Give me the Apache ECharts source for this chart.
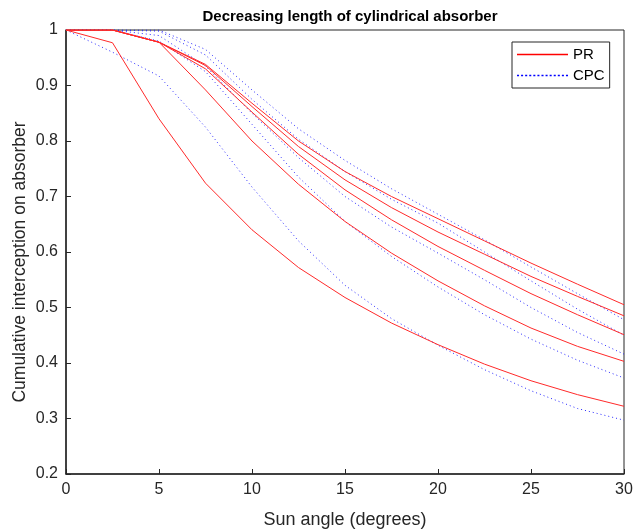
<!DOCTYPE html>
<html>
<head>
<meta charset="utf-8">
<script src="https://cdn.jsdelivr.net/npm/echarts@6/dist/echarts.min.js"></script>
<style>
html,body{margin:0;padding:0;background:#fff;}
#chart{width:634px;height:530px;}
</style>
</head>
<body>
<div id="chart"></div>
<script>
var angles = [0, 2.5, 5, 7.5, 10, 12.5, 15, 17.5, 20, 22.5, 25, 27.5, 30];

var pr1 = [1, 1, 0.978, 0.938, 0.868, 0.800, 0.745, 0.700, 0.660, 0.620, 0.580, 0.542, 0.505];
var pr2 = [1, 1, 0.978, 0.936, 0.862, 0.790, 0.730, 0.680, 0.636, 0.596, 0.556, 0.520, 0.485];
var pr3 = [1, 1, 0.978, 0.930, 0.852, 0.776, 0.712, 0.658, 0.610, 0.567, 0.525, 0.487, 0.451];
var pr4 = [1, 1, 0.978, 0.892, 0.800, 0.722, 0.655, 0.598, 0.548, 0.503, 0.463, 0.430, 0.403];
var pr5 = [1, 0.977, 0.840, 0.724, 0.640, 0.572, 0.518, 0.472, 0.433, 0.398, 0.368, 0.343, 0.322];

var cpc1 = [1, 1, 1, 0.965, 0.892, 0.822, 0.765, 0.714, 0.668, 0.622, 0.573, 0.525, 0.478];
var cpc2 = [1, 1, 0.998, 0.955, 0.875, 0.803, 0.745, 0.695, 0.652, 0.600, 0.548, 0.497, 0.450];
var cpc3 = [1, 1, 0.990, 0.935, 0.850, 0.770, 0.700, 0.645, 0.598, 0.550, 0.500, 0.455, 0.416];
var cpc4 = [1, 1, 0.980, 0.925, 0.830, 0.735, 0.655, 0.592, 0.537, 0.487, 0.443, 0.405, 0.373];
var cpc5 = [1, 0.960, 0.917, 0.825, 0.717, 0.620, 0.540, 0.480, 0.432, 0.388, 0.350, 0.318, 0.297];

var xTicks = [0, 5, 10, 15, 20, 25, 30];
var yTicks = [0.2, 0.3, 0.4, 0.5, 0.6, 0.7, 0.8, 0.9, 1];

var titleText = 'Decreasing length of cylindrical absorber';
var xLabel = 'Sun angle (degrees)';
var yLabel = 'Cumulative interception on absorber';

function pairs(ys) { return angles.map(function (a, i) { return [a, ys[i]]; }); }

var prSets = [pr1, pr2, pr3, pr4, pr5];
var cpcSets = [cpc1, cpc2, cpc3, cpc4, cpc5];

var series = [];
cpcSets.forEach(function (s) {
  series.push({
    name: 'CPC', type: 'line', data: pairs(s), showSymbol: false, symbol: 'none',
    lineStyle: { color: '#2a2aff', width: 1, type: [1, 3] },
    itemStyle: { color: '#0000ff' }, silent: true, animation: false, z: 2
  });
});
prSets.forEach(function (s) {
  series.push({
    name: 'PR', type: 'line', data: pairs(s), showSymbol: false, symbol: 'none',
    lineStyle: { color: '#ff2a2a', width: 1, type: 'solid' },
    itemStyle: { color: '#ff0000' }, silent: true, animation: false, z: 3
  });
});

var axisColor = '#262626';
var font = '"Liberation Sans", Arial, Helvetica, sans-serif';

var chart = echarts.init(document.getElementById('chart'), null, { renderer: 'canvas' });
chart.setOption({
  backgroundColor: '#ffffff',
  animation: false,
  title: {
    text: titleText, left: 345, top: 4, textAlign: 'center',
    textStyle: { fontFamily: font, fontSize: 15, fontWeight: 'bold', color: '#000' }
  },
  graphic: [{
    type: 'text', x: 20, y: 262, rotation: Math.PI / 2, silent: true,
    style: { text: yLabel, font: '17.5px ' + font, fill: axisColor, align: 'center', verticalAlign: 'middle' }
  }],
  legend: {
    data: [
      { name: 'PR', icon: 'path://M0,0 L50,0 L50,1.5 L0,1.5 Z' },
      { name: 'CPC', icon: 'path://M0,0 L2,0 L2,1.5 L0,1.5 Z M4,0 L6,0 L6,1.5 L4,1.5 Z M8,0 L10,0 L10,1.5 L8,1.5 Z M12,0 L14,0 L14,1.5 L12,1.5 Z M16,0 L18,0 L18,1.5 L16,1.5 Z M20,0 L22,0 L22,1.5 L20,1.5 Z M24,0 L26,0 L26,1.5 L24,1.5 Z M28,0 L30,0 L30,1.5 L28,1.5 Z M32,0 L34,0 L34,1.5 L32,1.5 Z M36,0 L38,0 L38,1.5 L36,1.5 Z M40,0 L42,0 L42,1.5 L40,1.5 Z M44,0 L46,0 L46,1.5 L44,1.5 Z M48,0 L50,0 L50,1.5 L48,1.5 Z' }
    ],
    orient: 'vertical', left: 512, top: 42,
    itemWidth: 51, itemHeight: 2, itemGap: 6,
    padding: [5, 5, 5, 5],
    borderColor: axisColor, borderWidth: 1, backgroundColor: '#fff',
    textStyle: { fontFamily: font, fontSize: 15, color: '#000' },
    selectedMode: false
  },
  grid: {
    left: 66, right: 10, top: 30, bottom: 56,
    containLabel: false, outerBoundsMode: 'none',
    show: true, borderColor: axisColor, borderWidth: 1, backgroundColor: 'transparent'
  },
  xAxis: {
    type: 'value', min: 0, max: 30, interval: 5,
    name: xLabel, nameLocation: 'middle', nameGap: 37,
    nameTextStyle: { fontFamily: font, fontSize: 18, color: axisColor },
    axisLine: { show: true, lineStyle: { color: axisColor, width: 1.5 } },
    axisTick: { show: true, inside: true, length: 5, lineStyle: { color: axisColor } },
    axisLabel: { fontFamily: font, fontSize: 16, color: axisColor, margin: 8,
      formatter: function (v) { return xTicks.indexOf(v) >= 0 ? String(v) : ''; } },
    splitLine: { show: false }
  },
  yAxis: {
    type: 'value', min: 0.2, max: 1, interval: 0.1,
    axisLine: { show: true, lineStyle: { color: axisColor, width: 1.5 } },
    axisTick: { show: true, inside: true, length: 5, lineStyle: { color: axisColor } },
    axisLabel: { fontFamily: font, fontSize: 16, color: axisColor, margin: 8,
      formatter: function (v) {
        var r = Math.round(v * 10) / 10;
        var hit = yTicks.filter(function (t) { return Math.abs(t - r) < 1e-9; });
        return hit.length ? String(hit[0]) : '';
      } },
    splitLine: { show: false }
  },
  series: series
});
</script>
</body>
</html>
